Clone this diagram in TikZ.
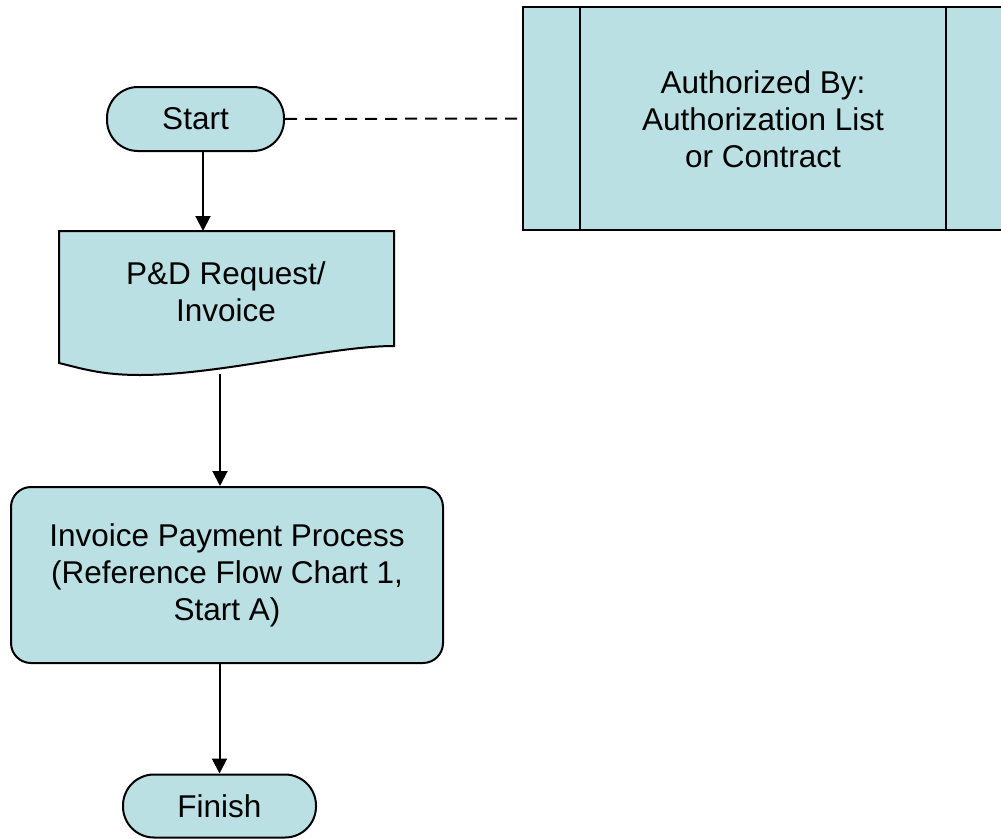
\documentclass[tikz,border=0pt]{standalone}
\usepackage{fontspec}
\setmainfont{Liberation Sans}
\usetikzlibrary{arrows.meta,calc}
\definecolor{boxfill}{RGB}{187,224,227}
\tikzset{
  lbl/.style={font=\fontsize{31.5}{37}\selectfont, align=center, inner sep=0pt},
  shapebox/.style={draw=black, fill=boxfill, line width=2pt},
  term/.style={shapebox, lbl, minimum height=64pt, rounded corners=31pt},
  proc/.style={shapebox, lbl, rounded corners=20pt},
  arr/.style={line width=2pt, -{Triangle[width=15pt,length=15pt]}},
  dashline/.style={line width=2pt, dash pattern=on 12pt off 8pt}
}
\begin{document}
\begin{tikzpicture}[x=1pt,y=-1pt]
\useasboundingbox (0,0) rectangle (1001,838);
% predefined process (extends past the right edge)
\node[shapebox, minimum width=480pt, minimum height=223pt, inner sep=0pt] (auth) at (763,118.5) {};
\draw[line width=2pt] ([xshift=58pt]auth.north west) -- ([xshift=58pt]auth.south west);
\draw[line width=2pt] ([xshift=-58pt]auth.north east) -- ([xshift=-58pt]auth.south east);
\node[lbl] (authtxt) at (763,119) {Authorized By:\\Authorization List\\or Contract};
% start
\node[term, minimum width=177pt] (start) at (195.5,119) {Start};
% document
\draw[shapebox] (59,231) -- (394,231) -- (394,346)
  .. controls (330,346) and (220,375) .. (140,375)
  .. controls (100,375) and (80,368) .. (59,363) -- cycle;
\node[lbl] (doc) at (226,292) {P\&D Request/\\Invoice};
\coordinate (doctop) at (203,231);
\coordinate (docbot) at (220,374);
% process
\node[proc, minimum width=432pt, minimum height=176pt] (proc) at (227,575) {Invoice Payment Process\\(Reference Flow Chart 1,\\Start A)};
% finish
\node[term, minimum width=193pt, minimum height=63pt] (fin) at (219.5,806) {Finish};
% connectors
\draw[arr] (start.south -| doctop) -- (doctop);
\draw[arr] (docbot) -- (proc.north -| docbot);
\draw[arr] (proc.south -| fin.north) -- (fin.north);
\draw[dashline] (start.east) -- (auth.west);
\end{tikzpicture}
\end{document}
